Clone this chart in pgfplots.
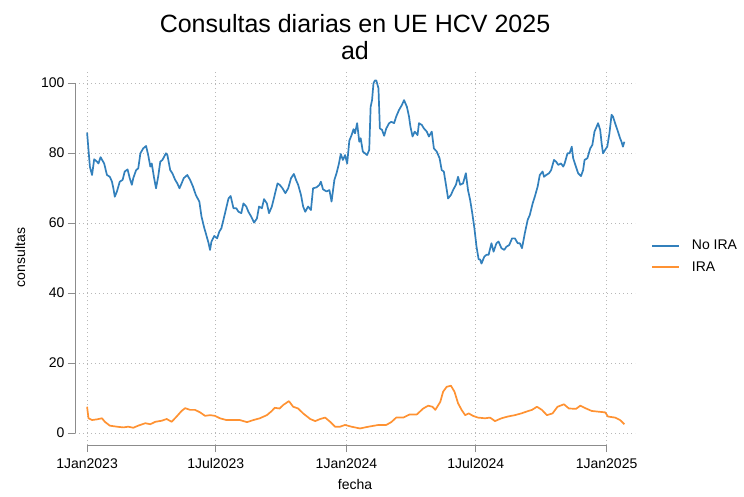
\documentclass[border=0pt]{standalone}
\usepackage{fontspec}
\setmainfont{Liberation Sans}
\usepackage{pgfplots}
\pgfplotsset{compat=1.18}
\definecolor{stblue}{RGB}{50,128,188}
\definecolor{storange}{RGB}{255,146,50}
\definecolor{axgray}{RGB}{140,140,140}

\begin{document}
\begin{tikzpicture}
\path[use as bounding box] (-75pt,-51pt) rectangle (669pt,445pt);
\begin{axis}[
  scale only axis, width=560pt, height=375pt,
  xmin=-17, xmax=771, ymin=-3.43, ymax=103.7,
  axis line style={draw=none},
  xtick={0,181,365,547,731},
  xticklabels={1Jan2023,1Jul2023,1Jan2024,1Jul2024,1Jan2025},
  ytick={0,20,40,60,80,100},
  tick align=outside, major tick length=7pt,
  xtick pos=left, ytick pos=left,
  tick style={axgray, line width=0.8pt},
  grid=major,
  major grid style={black!28, line width=0.7pt, dash pattern=on 0.8pt off 3.2pt},
  /pgf/number format/assume math mode=true,
  ticklabel style={font=\fontsize{14}{16}\selectfont, black},
  xticklabel style={yshift=-3pt},
  title={Consultas diarias en UE HCV 2025\\ad},
  every axis title/.style={at={(0.5,1)}, anchor=south, yshift=10pt, inner sep=0pt,
    align=center, font=\fontsize{25}{27}\selectfont},
  xlabel={fecha}, ylabel={consultas},
  every axis x label/.style={at={(axis description cs:0.5,-0.104)}, anchor=center,
    font=\fontsize{14}{16}\selectfont},
  every axis y label/.style={at={(axis description cs:-0.098,0.5)}, anchor=center,
    rotate=90, font=\fontsize{14}{16}\selectfont},
  legend style={at={(axis description cs:1.0286,0.503)}, anchor=west, draw=none,
    fill=none, inner sep=0pt, row sep=6pt, column sep=10pt,
    font=\fontsize{14}{16}\selectfont, cells={anchor=west}},
  legend image code/.code={\draw[#1, line width=1.7pt] (0pt,0pt) -- (27pt,0pt);},
]
\draw[axgray, line width=0.8pt] (axis cs:-17,0) -- (axis cs:-17,100);
\draw[axgray, line width=0.8pt] (axis cs:0,-3.43) -- (axis cs:731,-3.43);

\addplot[stblue, line width=1.7pt, line join=round] coordinates {
(0,85.8) (4,76) (7,73.7) (10,78.2) (14,77.5) (16,77) (19,78.8) (24,77) (28,73.7)
(32,73.2) (35,71.8) (37,69.9) (39,67.5) (42,69) (46,71.8) (50,72.3) (53,74.7)
(57,75.3) (60,72.8) (63,70.9) (65,72.8) (69,75.1) (72,75.6) (75,79.9) (79,81.3)
(83,82) (86,79.4) (89,76.1) (91,77) (94,73.2) (97,69.9) (100,73.2) (103,77.5)
(106,78) (111,79.9) (113,79.4) (117,75.1) (120,74.2) (124,72.3) (127,71.3)
(130,69.9) (133,71.3) (136,72.8) (141,73.7) (145,72.3) (149,70.4) (153,68)
(158,66.1) (161,61.8) (165,58.5) (167,57.1) (171,54.2) (173,52.3) (175,54.7)
(179,56.3) (183,55.6) (186,57.5) (189,58.5) (194,62.7) (199,67) (202,67.7)
(206,64.2) (210,64.2) (213,63.2) (217,62.8) (220,65.6) (224,64.7) (227,63.2)
(231,61.8) (235,60.1) (239,61.3) (242,64.7) (246,64.2) (249,66.8) (253,65.6)
(256,62.8) (260,64.7) (264,68) (268,71.3) (271,70.9) (275,69.9) (279,68.5)
(283,69.9) (287,72.8) (291,74) (294,72.3) (297,70.9) (301,68) (304,64.7)
(307,63.2) (311,64.7) (315,63.7) (318,69.9) (323,70.2) (327,70.9) (329,71.8)
(332,69.6) (337,69) (341,69.4) (344,66.1) (348,72.3) (351,74.2) (354,76.6)
(357,79.7) (360,78) (363,79.4) (366,77) (369,83.5) (372,85) (375,86.8)
(377,85.6) (380,88.5) (383,83.2) (385,84.2) (388,80.4) (391,79.9) (394,79.4)
(397,80.9) (399,93.2) (401,95.1) (403,99.9) (405,100.7) (407,100.7) (410,98.5)
(412,87) (415,86.6) (418,84.9) (421,87) (425,88.5) (428,88.9) (432,88.5)
(435,90.4) (439,92.3) (443,93.7) (446,95.1) (450,93.2) (453,90.4) (455,87.5)
(458,84.7) (461,86.1) (465,85.1) (467,88.5) (471,88) (474,87) (478,86.1)
(481,84.7) (485,86.1) (488,81.3) (492,80.4) (496,78.5) (499,75.1) (502,74.7)
(505,70.9) (508,67) (512,68) (515,69.4) (519,70.9) (522,73.2) (525,70.9)
(529,71.3) (533,74.2) (536,69.4) (539,66.6) (542,62.8) (545,58.5) (548,53.2)
(551,49.6) (553,49.6) (555,48.4) (559,50.4) (562,50.9) (565,50.9) (569,54.2)
(572,51.8) (576,54.2) (579,54.7) (583,52.8) (587,52.3) (590,53.2) (594,53.7)
(598,55.6) (602,55.6) (606,54.2) (609,54.2) (612,52.8) (616,57.1) (620,60.9)
(623,62.3) (627,65.6) (630,67.5) (634,70.4) (637,73.7) (641,74.7) (643,73.2)
(646,73.7) (650,74.2) (653,75.1) (657,78) (660,77.5) (663,76.6) (667,77)
(670,76.1) (672,77) (676,79.9) (679,79.9) (682,81.8) (684,78.5) (687,76.6)
(691,74.2) (695,73.4) (698,75.1) (700,78) (704,78.5) (708,81.3) (711,82.3)
(714,86.1) (717,87.5) (719,88.5) (722,86.6) (724,82.8) (726,79.9) (729,80.9)
(732,81.8) (735,85.6) (738,90.9) (740,90.4) (743,88.5) (747,86.1) (750,84.2)
(752,83.2) (754,81.8) (756,83.2)
};
\addlegendentry{No IRA}

\addplot[storange, line width=1.7pt, line join=round] coordinates {
(0,7.5) (2,4.2) (7,3.7) (14,3.9) (21,4.2) (25,3.2) (32,2.1) (42,1.8) (51,1.6)
(58,1.8) (65,1.5) (72,2.1) (82,2.8) (89,2.5) (96,3.2) (105,3.5) (112,4.0)
(119,3.2) (126,4.7) (133,6.3) (138,7.1) (145,6.6) (152,6.6) (159,5.9) (166,4.9)
(173,5.1) (180,4.9) (187,4.2) (196,3.7) (205,3.7) (215,3.7) (225,3.1) (234,3.7)
(243,4.2) (253,5.1) (260,6.3) (264,7.2) (271,7.0) (276,8.0) (284,9.1) (290,7.5)
(297,7.0) (304,5.6) (314,4.0) (321,3.4) (328,4.0) (335,4.4) (342,3.2) (349,1.8)
(356,1.8) (363,2.3) (372,1.8) (384,1.3) (396,1.8) (410,2.3) (421,2.3) (428,3.1)
(435,4.4) (445,4.4) (454,5.3) (464,5.3) (473,7.0) (480,7.8) (486,7.5) (490,6.6)
(497,8.9) (501,11.8) (506,13.2) (512,13.5) (517,11.8) (522,8.5) (527,6.6)
(532,5.1) (537,5.6) (543,4.9) (550,4.4) (560,4.2) (567,4.4) (574,3.4) (583,4.2)
(592,4.7) (602,5.1) (611,5.6) (621,6.3) (626,6.6) (633,7.5) (640,6.6) (647,5.1)
(655,5.6) (662,7.5) (671,8.2) (678,7.0) (688,6.9) (694,7.8) (700,7.2) (710,6.3)
(719,6.1) (729,5.9) (733,4.7) (743,4.4) (750,3.7) (756,2.5)
};
\addlegendentry{IRA}
\end{axis}
\end{tikzpicture}
\end{document}
